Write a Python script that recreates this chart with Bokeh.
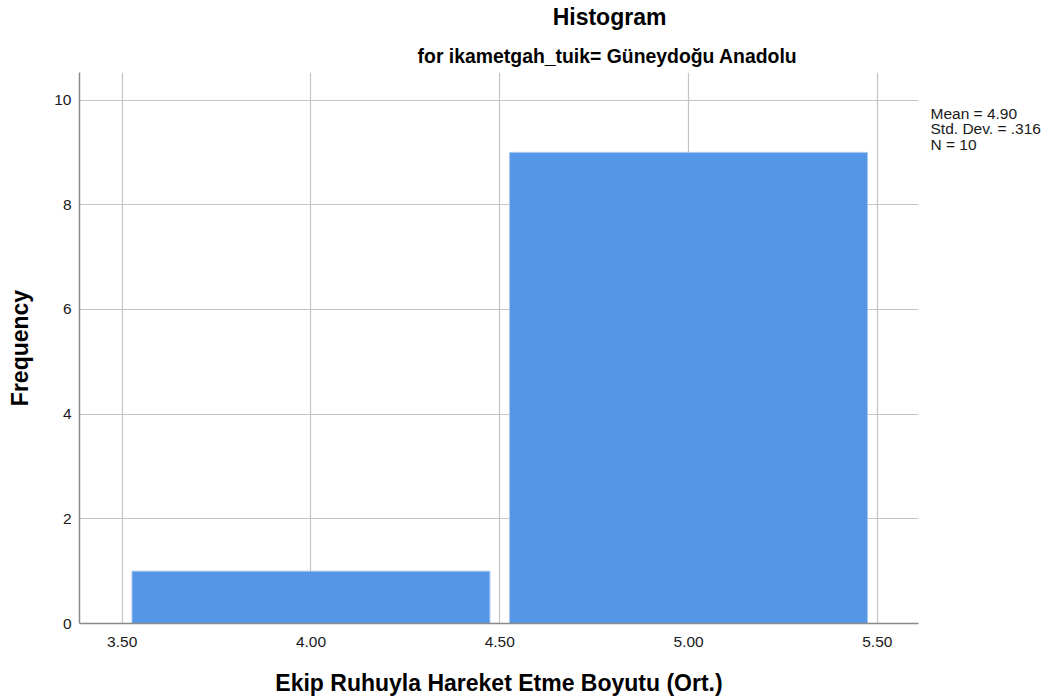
from bokeh.plotting import figure
from bokeh.models import FixedTicker, PrintfTickFormatter, Range1d, LinearAxis
from bokeh.embed import file_html
from bokeh.resources import INLINE

# ---- data ----
bin_centers = [4.0, 5.0]
frequencies = [1, 9]
x_ticks = [3.5, 4.0, 4.5, 5.0, 5.5]
y_ticks = [0, 2, 4, 6, 8, 10]
stats_lines = ["Mean = 4.90", "Std. Dev. = .316", "N = 10"]
title_text = "Histogram"
subtitle_text = "for ikametgah_tuik= Güneydoğu Anadolu"
x_label = "Ekip Ruhuyla Hareket Etme Boyutu (Ort.)"
y_label = "Frequency"

# ---- layout (screen pixels) ----
W, H = 1053, 700
FL, FT, FR, FB = 79, 71, 918, 623
FW, FH = FR - FL, FB - FT
X0, X1 = 3.387, 5.609
Y0, Y1 = 0.0, 10.526
half_w = 0.474

p = figure(width=W, height=H, output_backend="svg", toolbar_location=None,
           x_range=Range1d(X0, X1), y_range=Range1d(Y0, Y1),
           min_border_left=FL, min_border_top=FT,
           min_border_right=W - FR, min_border_bottom=H - FB,
           background_fill_color="white", border_fill_color="white")
p.outline_line_color = None
p.title.visible = False

lefts = [c - half_w for c in bin_centers]
rights = [c + half_w for c in bin_centers]
p.quad(left=lefts, right=rights, bottom=0, top=frequencies,
       fill_color="#5596E6", line_color="#A6C6F0", line_width=1)

def style_axis(ax):
    ax.major_tick_line_color = None
    ax.minor_tick_line_color = None
    ax.major_tick_out = 0
    ax.major_tick_in = 0
    ax.minor_tick_out = 0
    ax.minor_tick_in = 0
    ax.major_label_text_font = "Liberation Sans"
    ax.major_label_text_font_size = "15.5px"
    ax.major_label_text_color = "#1a1a1a"
    ax.axis_label_text_font = "Liberation Sans"
    ax.axis_label_text_font_style = "bold"
    ax.axis_label_text_font_size = "23px"
    ax.axis_label_text_color = "#000000"

for ax in (p.xaxis[0], p.yaxis[0]):
    style_axis(ax)
    ax.axis_line_color = "#8a8a8a"
    ax.axis_line_width = 1.5

p.xaxis.ticker = FixedTicker(ticks=x_ticks)
p.xaxis.formatter = PrintfTickFormatter(format="%.2f")
p.xaxis.major_label_standoff = 13
p.xaxis.axis_label = x_label
p.xaxis.axis_label_standoff = 20

p.yaxis.ticker = FixedTicker(ticks=y_ticks)
p.yaxis.major_label_standoff = 8
p.yaxis.axis_label = y_label
p.yaxis.axis_label_standoff = 18

p.xgrid.ticker = FixedTicker(ticks=x_ticks)
p.ygrid.ticker = FixedTicker(ticks=y_ticks)
for g in (p.xgrid[0], p.ygrid[0]):
    g.grid_line_color = "#c4c4c4"
    g.grid_line_width = 1.2

def sx(px):
    return X0 + (px - FL) * (X1 - X0) / FW

def sy(py):
    return Y0 + (FB - py) * (Y1 - Y0) / FH

# statistics box on the right, written as the labels of a line-less axis
stat_pos = [sy(111.8), sy(127.2), sy(142.8)]
stats_axis = LinearAxis(ticker=FixedTicker(ticks=stat_pos),
                        major_label_overrides={v: t for v, t in zip(stat_pos, stats_lines)})
style_axis(stats_axis)
stats_axis.axis_line_color = None
stats_axis.major_label_text_font_size = "15.5px"
stats_axis.major_label_standoff = 12
stats_axis.major_label_text_align = "left"
p.add_layout(stats_axis, "right")

# title and subtitle, written as the labels of line-less axes above the plot
def title_axis(center_px, text, size, standoff):
    pos = sx(center_px)
    ax = LinearAxis(ticker=FixedTicker(ticks=[pos]), major_label_overrides={pos: text})
    style_axis(ax)
    ax.axis_line_color = None
    ax.major_label_text_font_style = "bold"
    ax.major_label_text_font_size = size
    ax.major_label_text_color = "#000000"
    ax.major_label_standoff = standoff
    return ax

p.add_layout(title_axis(607, subtitle_text, "19.4px", 6), "above")
p.add_layout(title_axis(609, title_text, "23px", 12), "above")

open("out.html", "w").write(file_html(p, INLINE))
